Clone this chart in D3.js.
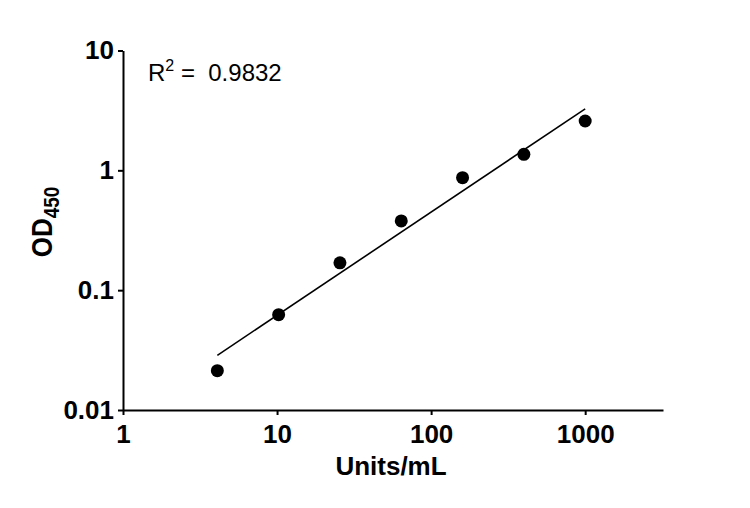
<!DOCTYPE html>
<html>
<head>
<meta charset="utf-8">
<script src="https://cdn.jsdelivr.net/npm/d3@7"></script>
<style>
  html, body { margin: 0; padding: 0; background: #fff; }
  svg { display: block; font-family: Arial, "Liberation Sans", Helvetica, sans-serif; }
</style>
</head>
<body>
<div id="chart"></div>
<script>
// standard curve data (units/mL vs OD450)
const concentrations = [4.096, 10.24, 25.6, 64, 160, 400, 1000];
const odValues = [0.0213, 0.0624, 0.169, 0.378, 0.869, 1.36, 2.58];

// fitted line end points (as drawn)
const fitX = [4.096, 1000];
const fitY = [0.0286, 3.26];

const xTicks = [1, 10, 100, 1000];
const xTickLabels = ['1', '10', '100', '1000'];
const yTicks = [0.01, 0.1, 1, 10];
const yTickLabels = ['0.01', '0.1', '1', '10'];

const width = 750, height = 508;
const margin = { top: 50.5, right: 87, bottom: 98, left: 123 };

const svg = d3.select('#chart').append('svg')
    .attr('width', width)
    .attr('height', height);

const x = d3.scaleLog().domain([1, 3200]).range([margin.left, width - margin.right]);
const y = d3.scaleLog().domain([0.01, 10]).range([height - margin.bottom, margin.top]);

// axes
const xAxis = d3.axisBottom(x)
    .tickValues(xTicks)
    .tickFormat((d, i) => xTickLabels[i])
    .tickSize(5)
    .tickSizeOuter(0)
    .tickPadding(9.5);

const yAxis = d3.axisLeft(y)
    .tickValues(yTicks)
    .tickFormat((d, i) => yTickLabels[i])
    .tickSize(5)
    .tickSizeOuter(0)
    .tickPadding(4);

function styleAxis(g) {
    g.select('.domain').attr('stroke', '#000').attr('stroke-width', 2);
    g.selectAll('.tick line').attr('stroke', '#000').attr('stroke-width', 2);
    g.selectAll('.tick text')
        .attr('fill', '#000')
        .style('font-size', '26px')
        .style('font-weight', 'bold')
        .style('font-family', 'Arial, "Liberation Sans", Helvetica, sans-serif');
}

svg.append('g')
    .attr('transform', `translate(0,${height - margin.bottom})`)
    .call(xAxis)
    .call(styleAxis);

svg.append('g')
    .attr('transform', `translate(${margin.left},0)`)
    .call(yAxis)
    .call(styleAxis);

// fit line
const line = d3.line().x(d => x(d[0])).y(d => y(d[1]));
svg.append('path')
    .datum(fitX.map((v, i) => [v, fitY[i]]))
    .attr('d', line)
    .attr('fill', 'none')
    .attr('stroke', '#000')
    .attr('stroke-width', 1.6);

// points
svg.append('g')
    .selectAll('circle')
    .data(concentrations.map((v, i) => [v, odValues[i]]))
    .join('circle')
    .attr('cx', d => x(d[0]))
    .attr('cy', d => y(d[1]))
    .attr('r', 6.5)
    .attr('fill', '#000');

// axis titles
svg.append('text')
    .attr('x', (margin.left + width - margin.right) / 2 - 2)
    .attr('y', 475)
    .attr('text-anchor', 'middle')
    .style('font-size', '26px')
    .style('font-weight', 'bold')
    .text('Units/mL');

// the original picture is a bit stretched sideways, so the rotated title is widened
const yl = svg.append('text')
    .attr('transform', 'translate(52,222) scale(1.15,1) rotate(-90)')
    .attr('text-anchor', 'middle')
    .style('font-size', '26px')
    .style('font-weight', 'bold');
yl.append('tspan').text('OD');
yl.append('tspan').attr('dy', 6).style('font-size', '19px').text('450');

// R squared annotation
const r2 = svg.append('text')
    .attr('x', 148)
    .attr('y', 80.5)
    .style('font-size', '24px');
r2.append('tspan').text('R');
r2.append('tspan').attr('dy', -10).style('font-size', '16px').text('2');
r2.append('tspan').attr('dy', 10).text('\u00a0=\u00a0\u00a00.9832');
</script>
</body>
</html>
